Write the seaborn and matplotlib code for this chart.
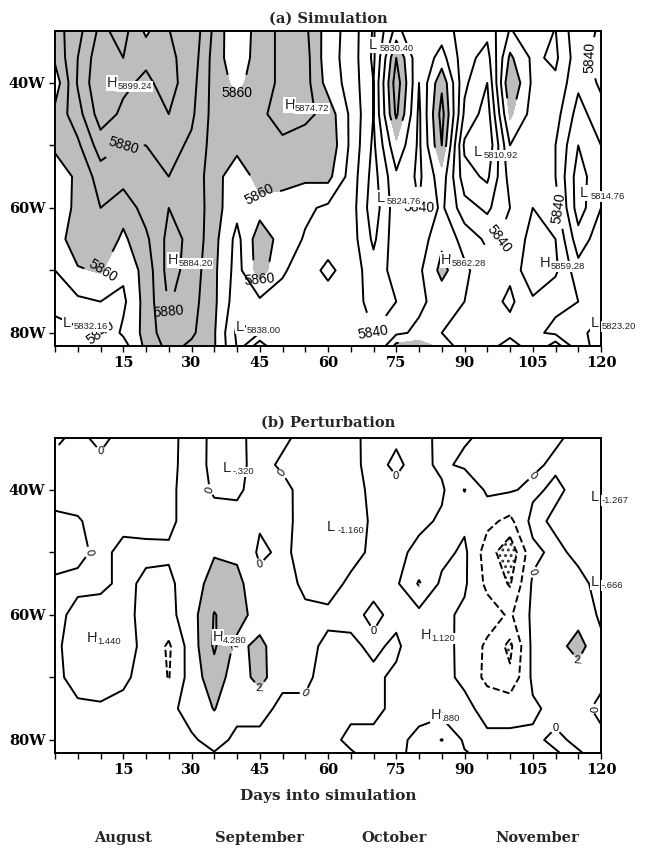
import numpy as np
import matplotlib
matplotlib.use("Agg")
import matplotlib.pyplot as plt
from matplotlib.ticker import MultipleLocator
import seaborn as sns

# grid: one list per day column, values from top (31W) to bottom (83W)
days = [0, 5, 10, 15, 20, 25, 30, 35, 40, 45, 50, 55, 60,
        65, 70, 75, 80, 85, 90, 95, 100, 105, 110, 115, 120]
lats = [31, 36, 40, 45, 50, 55, 60, 65, 70, 75, 80, 83]

sim_z = [
    [5866, 5862, 5854, 5863, 5861, 5857, 5855, 5855, 5850, 5846, 5833, 5834],
    [5876, 5880, 5881, 5876, 5868, 5861, 5862, 5866, 5859, 5848, 5838, 5836],
    [5892, 5897, 5899, 5895, 5885, 5875, 5870, 5868, 5861, 5850, 5840, 5838],
    [5885, 5890, 5892, 5888, 5880, 5874, 5864, 5858, 5852, 5848, 5852, 5842],
    [5904, 5892, 5888, 5884, 5880, 5878, 5874, 5868, 5864, 5864, 5863, 5862],
    [5890, 5892, 5894, 5890, 5884, 5880, 5880, 5883, 5884, 5881, 5878, 5872],
    [5888, 5886, 5884, 5882, 5878, 5876, 5878, 5878, 5876, 5874, 5872, 5866],
    [5868, 5866, 5866, 5866, 5866, 5865, 5864, 5863, 5862, 5862, 5861, 5861],
    [5850, 5852, 5857, 5866, 5864, 5852, 5853, 5847, 5846, 5844, 5838, 5840],
    [5866, 5866, 5866, 5868, 5866, 5865, 5856, 5866, 5865, 5848, 5840, 5864],
    [5872, 5872, 5872, 5874, 5868, 5864, 5855, 5856, 5851, 5847, 5841, 5842],
    [5872, 5874, 5874, 5873, 5864, 5862, 5852, 5849, 5846, 5850, 5842, 5840],
    [5855, 5854, 5856, 5866, 5868, 5863, 5848, 5846, 5852, 5846, 5842, 5840],
    [5846, 5846, 5846, 5848, 5848, 5846, 5845, 5845, 5846, 5845, 5842, 5840],
    [5829, 5828, 5830, 5830, 5828, 5826, 5824, 5828, 5834, 5836, 5840, 5842],
    [5852, 5870, 5876, 5872, 5858, 5848, 5846, 5846, 5844, 5840, 5848, 5870],
    [5840, 5842, 5840, 5838, 5838, 5838, 5840, 5844, 5848, 5848, 5852, 5872],
    [5844, 5854, 5868, 5874, 5870, 5856, 5852, 5858, 5863, 5854, 5850, 5862],
    [5836, 5834, 5832, 5828, 5818, 5824, 5834, 5846, 5852, 5850, 5846, 5846],
    [5834, 5826, 5820, 5815, 5811, 5818, 5828, 5838, 5844, 5844, 5840, 5848],
    [5850, 5862, 5870, 5862, 5850, 5844, 5840, 5842, 5842, 5838, 5844, 5866],
    [5846, 5848, 5848, 5846, 5846, 5848, 5850, 5854, 5859, 5848, 5842, 5846],
    [5850, 5852, 5848, 5844, 5840, 5840, 5844, 5850, 5852, 5842, 5838, 5864],
    [5832, 5834, 5832, 5826, 5820, 5815, 5815, 5824, 5834, 5840, 5834, 5840],
    [5842, 5846, 5842, 5836, 5830, 5828, 5830, 5836, 5840, 5836, 5824, 5822],
]

pert_z = [
    [0.3, -0.3, -0.4, 0.2, 0.5, -0.2, -0.4, -0.5, -0.4, -0.3, -0.3, -0.3],
    [-0.2, -0.4, -0.5, 0.1, 0.3, -0.3, 0.4, 1.2, 0.6, -0.3, -0.4, -0.4],
    [0.4, -0.3, -0.5, -0.4, -0.3, -0.4, 0.8, 1.44, 0.7, -0.2, -0.4, -0.4],
    [-0.3, -0.4, -0.5, -0.3, 0.3, 0.4, 0.3, 0.6, 0.2, -0.3, -0.4, -0.4],
    [-0.4, -0.5, -0.5, -0.4, 0.3, -0.3, -0.3, -0.4, -0.4, -0.3, -0.3, -0.4],
    [-0.3, -0.4, -0.4, -0.3, 0.2, -0.3, -0.6, -2.3, -2.1, -0.4, -0.3, 0.2],
    [0.4, 0.6, 0.8, 0.6, 0.5, 0.8, 1.2, 1.0, 0.9, 0.6, -0.2, -0.3],
    [-0.2, -0.32, -0.2, 0.6, 1.8, 3.0, 4.1, 4.28, 3.2, 2.1, 0.5, -0.3],
    [-0.2, -0.3, -0.2, 0.4, 1.6, 2.6, 3.0, 1.4, 0.8, 0.4, -0.3, -0.3],
    [0.3, 0.4, 0.5, 0.2, -0.3, 0.5, 0.9, 2.6, 2.8, 0.4, -0.3, -0.3],
    [0.3, -0.2, 0.4, 0.5, 0.3, 0.6, 0.4, 0.5, 0.3, -0.3, -0.4, -0.4],
    [-0.3, -0.4, -0.5, -0.6, -0.5, -0.3, 0.3, 0.4, 0.2, -0.2, -0.3, -0.3],
    [-0.5, -0.6, -0.8, -1.16, -1.0, -0.6, 0.3, -0.3, -0.4, -0.5, -0.4, -0.4],
    [-0.3, -0.4, -0.5, -0.6, -0.5, 0.3, 0.4, -0.3, -0.4, -0.3, 0.3, -0.3],
    [0.4, 0.5, 0.3, 0.2, 0.3, 0.4, -0.3, 0.3, -0.3, -0.4, 0.4, 0.3],
    [0.3, -0.3, 0.4, 0.5, 0.6, 0.3, 0.4, -0.3, 0.3, 0.4, 0.3, 0.2],
    [0.4, 0.6, 0.3, 0.5, -0.6, -2.2, 0.6, 1.12, 0.9, 0.4, -0.3, -0.3],
    [-0.3, -0.4, 0.3, -0.3, -0.6, 0.4, 0.5, 0.6, 0.4, 0.88, -2.1, -0.3],
    [-0.3, 0.4, -2.1, -0.4, 0.4, 0.3, -0.4, -0.5, -0.3, 0.4, 0.3, -0.3],
    [0.3, 0.5, 0.4, -1.5, -3.0, -2.5, -1.0, -2.4, -2.6, -0.5, 0.3, 0.3],
    [0.4, 0.6, 0.2, -2.5, -5.5, -4.2, -2.3, -4.5, -3.6, -0.5, 0.3, -0.3],
    [0.5, 0.3, -0.4, 0.6, -0.5, 0.3, 0.4, 0.5, 0.4, -0.3, 0.3, 0.4],
    [0.3, -0.3, 0.4, -0.4, 0.5, 0.4, 0.9, 1.2, 1.0, 0.5, -0.3, 0.3],
    [-0.3, -0.4, -0.6, -0.8, -0.5, 0.6, 1.2, 2.8, 1.0, 0.4, 0.3, -0.3],
    [-0.3, -0.5, -0.9, -1.267, -0.8, -0.666, -0.3, 0.4, 0.3, -0.3, 0.3, 0.3],
]

sim_levels = [5810, 5820, 5830, 5840, 5850, 5860, 5870, 5880, 5890, 5900]
sim_labelled = [5840, 5860, 5880]
pert_levels = [-6, -4, -2, 0, 2, 4]

# highs / lows written on the map: letter, value, day, lat
sim_marks = [
    ("H", "5899.24", 11.4, 40.0), ("H", "5874.72", 50.4, 43.5),
    ("L", "5830.40", 69.0, 33.9), ("L", "5810.92", 92.0, 51.0),
    ("L", "5824.76", 70.7, 58.4), ("L", "5814.76", 115.4, 57.6),
    ("H", "5884.20", 24.8, 68.3), ("H", "5862.28", 84.8, 68.3),
    ("H", "5859.28", 106.6, 68.8), ("L", "5832.16", 1.8, 78.4),
    ("L", "5838.00", 39.8, 79.0), ("L", "5823.20", 117.8, 78.4),
]
pert_marks = [
    ("L", "-.320", 36.8, 36.5), ("L", "-1.160", 59.8, 45.9),
    ("L", "-1.267", 117.8, 41.1), ("L", "-.666", 117.8, 54.7),
    ("H", "1.440", 7.0, 63.7), ("H", "4.280", 34.6, 63.5),
    ("H", "1.120", 80.4, 63.2), ("H", ".880", 82.5, 76.0),
]

x_major = [15, 30, 45, 60, 75, 90, 105, 120]
y_major = [40, 60, 80]
y_labels = ["40W", "60W", "80W"]
months = ["August", "September", "October", "November"]
month_days = [15, 45, 74.5, 106]

sns.set_theme(style="white")
plt.rcParams["font.family"] = ["DejaVu Serif"]
plt.rcParams["hatch.linewidth"] = 1.3

serif = dict(family="DejaVu Serif", weight="bold")
sans = "Liberation Sans"
shade = "#bdbdbd"

fig = plt.figure(figsize=(6.49, 8.48), dpi=100)
ax1 = fig.add_axes([55 / 649, 1 - 346 / 848, 546 / 649, 315 / 848])
ax2 = fig.add_axes([55 / 649, 1 - 753 / 848, 546 / 649, 315 / 848])

Zs = np.array(sim_z).T
Zp = np.array(pert_z).T


def hl_mark(ax, letter, value, x, y):
    box = dict(facecolor="white", edgecolor="none", pad=0.6)
    ax.text(x, y, letter, fontsize=10.5, family=sans, color="#222222",
            ha="left", va="center", bbox=box, zorder=6)
    ax.annotate(value, xy=(x, y), xytext=(7.5, -2.8), textcoords="offset points",
                fontsize=6.8, family=sans, color="#222222", ha="left", va="center",
                bbox=box, zorder=6, annotation_clip=False)


def tidy_labels(labels, right_limit=None, level_text=None):
    # drop contour labels that land on the frame (or, optionally, one level past a day)
    for t in labels:
        x, y = t.get_position()
        drop = y > 80.5 or y < 33.0 or x < 2.0 or x > 118.0
        if right_limit is not None and t.get_text() == level_text and x > right_limit:
            drop = True
        if drop:
            t.remove()
        else:
            t.set_family(sans)


# (a) simulation
ax1.contourf(days, lats, Zs, levels=[5860, 5900], colors=[shade])
cs1 = ax1.contour(days, lats, Zs, levels=sim_levels, colors="black", linewidths=1.4)
tidy_labels(ax1.clabel(cs1, levels=sim_labelled, fmt="%d", fontsize=10, inline=True, inline_spacing=3),
            right_limit=66, level_text="5860")
for letter, value, x, y in sim_marks:
    hl_mark(ax1, letter, value, x, y)

# (b) perturbation
ax2.contourf(days, lats, Zp, levels=[2, 10], colors=[shade])
dots = ax2.contourf(days, lats, Zp, levels=[-10, -4], colors=["white"], hatches=["..."])
dots.set_edgecolor("#333333")
dots.set_linewidth(0)
cs2 = ax2.contour(days, lats, Zp, levels=pert_levels, colors="black", linewidths=1.4)
tidy_labels(ax2.clabel(cs2, levels=[0, 2], fmt={0: "0", 2: "2."}, fontsize=8, inline=True, inline_spacing=2))
for letter, value, x, y in pert_marks:
    hl_mark(ax2, letter, value, x, y)

for ax, title, pad in [(ax1, "(a) Simulation", 6), (ax2, "(b) Perturbation", 8)]:
    ax.set_xlim(0, 120)
    ax.set_ylim(82.1, 31.7)
    ax.set_xticks(x_major)
    ax.set_xticklabels([str(v) for v in x_major], fontdict=serif, fontsize=10.5)
    ax.xaxis.set_minor_locator(MultipleLocator(5))
    ax.set_yticks(y_major)
    ax.set_yticklabels(y_labels, fontdict=serif, fontsize=10.5)
    ax.yaxis.set_minor_locator(MultipleLocator(10))
    ax.tick_params(axis="both", which="both", direction="out", length=4, width=1,
                   colors="black", bottom=True, left=True, top=False, right=False, pad=3)
    for sp in ax.spines.values():
        sp.set_visible(True)
        sp.set_color("black")
        sp.set_linewidth(1.4)
    ax.set_title(title, fontdict=serif, fontsize=10.5, pad=pad)
    ax.grid(False)

ax2.set_xlabel("Days into simulation", fontdict=serif, fontsize=11, labelpad=9)
for name, d in zip(months, month_days):
    ax2.text(d, -0.27, name, transform=ax2.get_xaxis_transform(), ha="center", va="center",
             fontdict=serif, fontsize=10.5)

fig.savefig("out.png", dpi=100)
